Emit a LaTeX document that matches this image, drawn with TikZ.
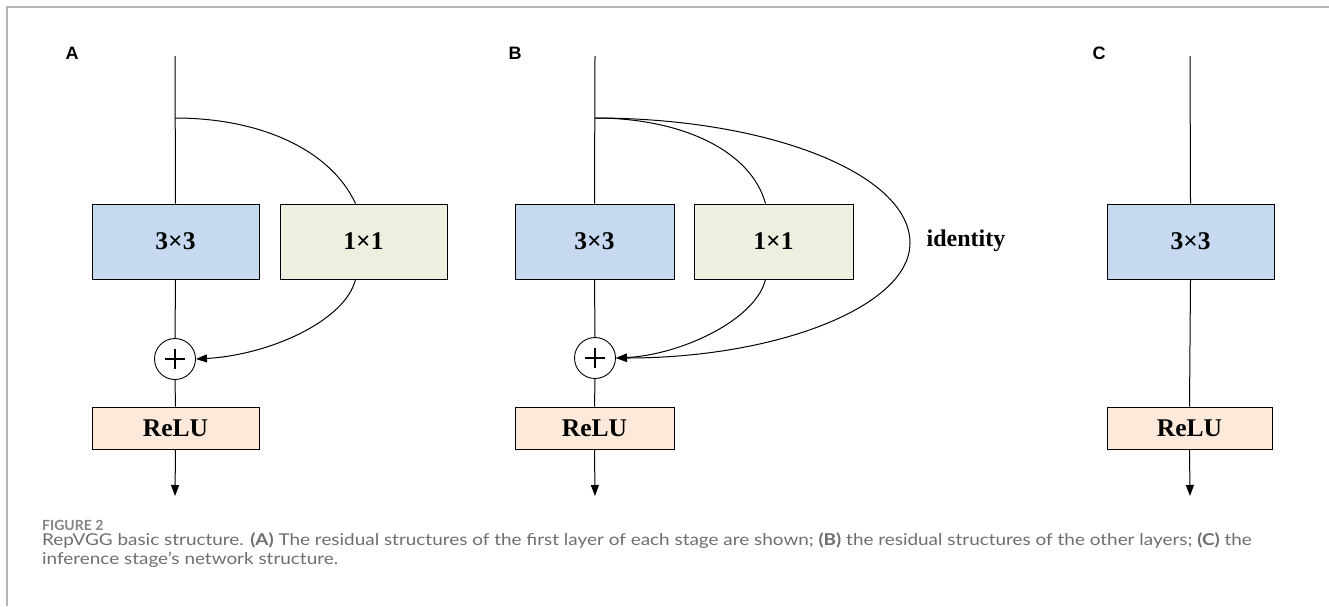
\documentclass[tikz,border=0pt]{standalone}
\usepackage{fontspec}
\setmainfont{Liberation Serif}
\newfontfamily\labfont{Liberation Sans}
\newfontfamily\capfont[FakeStretch=1.16]{Lato}
\newfontfamily\figfont{Lato}
\usetikzlibrary{arrows.meta}
\definecolor{bluebox}{HTML}{C6D9F0}
\definecolor{greenbox}{HTML}{EBF1DE}
\definecolor{relubox}{HTML}{FCE9DA}
\definecolor{framegray}{HTML}{B4B4B4}
\definecolor{capgray}{HTML}{6E6E6E}
\tikzset{
  box/.style={draw=black, line width=0.9pt, inner sep=0pt, font=\fontsize{25.5}{28}\selectfont\bfseries},
  conv/.style={box, minimum height=75pt},
  relu/.style={box, fill=relubox, minimum height=42pt},
  addnode/.style={circle, draw, line width=0.9pt, minimum size=41pt, inner sep=0pt,
    path picture={
      \draw[line width=1.6pt] ([xshift=-10pt]path picture bounding box.center) -- ([xshift=10pt]path picture bounding box.center);
      \draw[line width=1.6pt] ([yshift=-10pt]path picture bounding box.center) -- ([yshift=10pt]path picture bounding box.center);
    }},
  conn/.style={line width=1pt},
  arr/.style={conn, -{Triangle[length=11pt,width=8pt]}},
  panel/.style={font=\labfont\fontsize{18}{20}\selectfont\bfseries},
  captext/.style={anchor=base west, inner sep=0pt, text=capgray, font=\capfont\fontsize{16.3}{18}\selectfont},
}
\begin{document}
\begin{tikzpicture}[x=1pt, y=-1pt]
\useasboundingbox (0,0) rectangle (1329,606);
\draw[framegray, line width=1.5pt] (7,606) -- (7,7) -- (1329,7);

% ---------- Panel A ----------
\node[panel] (la) at (72,53) {A};
\coordinate (Atop) at (175,56);
\coordinate (Abr) at (175,118);
\node[conv, fill=bluebox, minimum width=167pt] (A33) at (175.5,241.5) {3×3};
\node[conv, fill=greenbox, minimum width=167pt] (A11) at (363.5,241.5) {1×1};
\node[addnode] (Aadd) at (175,359) {};
\node[relu, minimum width=167pt] (Arelu) at (175.5,428) {ReLU};
\coordinate (Aout) at (175,496);
\draw[conn] (Atop) -- (A33.north);
\draw[conn] (Abr) .. controls +(85,0) and +(-25,-54) .. ([xshift=-8pt]A11.north);
\draw[arr] ([xshift=-8pt]A11.south) .. controls +(-10,41) and +(74,-4) .. (Aadd.east);
\draw[conn] (A33.south) -- (Aadd.north);
\draw[conn] (Aadd.south) -- (Arelu.north);
\draw[arr] (Arelu.south) -- (Aout);

% ---------- Panel B ----------
\node[panel] (lb) at (515,53) {B};
\coordinate (Btop) at (595,56);
\coordinate (Bbr) at (595,118);
\coordinate (Bmid) at (910,243);
\node[conv, fill=bluebox, minimum width=159pt] (B33) at (594.5,241.5) {3×3};
\node[conv, fill=greenbox, minimum width=159pt] (B11) at (773.5,241.5) {1×1};
\node[addnode] (Badd) at (595,358) {};
\node[relu, minimum width=159pt] (Brelu) at (594.5,428) {ReLU};
\node[font=\fontsize{24}{28}\selectfont\bfseries] (idt) at (966,241) {identity};
\coordinate (Bout) at (595,496);
\draw[conn] (Btop) -- (B33.north);
\draw[conn] (Bbr) .. controls +(85,0) and +(-15,-54) .. ([xshift=-8pt]B11.north);
\draw[arr] ([xshift=-8pt]B11.south) .. controls +(-10,41) and +(64,-3) .. (Badd.east);
\draw[arr] (Bbr) .. controls +(174,0) and +(0,-69) .. (Bmid) .. controls +(0,63) and +(162,0) .. (Badd.east);
\draw[conn] (B33.south) -- (Badd.north);
\draw[conn] (Badd.south) -- (Brelu.north);
\draw[arr] (Brelu.south) -- (Bout);

% ---------- Panel C ----------
\node[panel] (lc) at (1099,53) {C};
\coordinate (Ctop) at (1190,56);
\node[conv, fill=bluebox, minimum width=167pt] (C33) at (1190.5,241.5) {3×3};
\node[relu, minimum width=165pt] (Crelu) at (1189.5,428) {ReLU};
\coordinate (Cout) at (1190,496);
\draw[conn] (Ctop) -- (C33.north);
\draw[conn] (C33.south) -- (Crelu.north);
\draw[arr] (Crelu.south) -- (Cout);

% ---------- Caption ----------
\node[captext, font=\figfont\fontsize{14}{16}\selectfont\bfseries, text=capgray!85] (fig) at (42,530) {FIGURE 2};
\node[captext] (cap1) at (42,545.3) {RepVGG basic structure. \textbf{(A)} The residual structures of the first layer of each stage are shown; \textbf{(B)} the residual structures of the other layers; \textbf{(C)} the};
\node[captext] (cap2) at (42,564) {inference stage’s network structure.};
\end{tikzpicture}
\end{document}
